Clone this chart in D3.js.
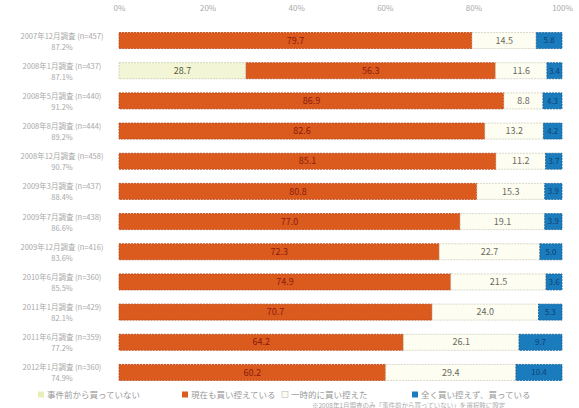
<!DOCTYPE html>
<html><head><meta charset="utf-8">
<script src="https://cdn.jsdelivr.net/npm/d3@7"></script>
<style>body{margin:0;background:#fff}svg{display:block}text{font-family:"Noto Sans CJK JP","Noto Sans",sans-serif}</style>
</head><body><svg id="c" width="579" height="408"></svg>
<script>
const surveys = ["2007年12月調査","2008年1月調査","2008年5月調査","2008年8月調査","2008年12月調査","2009年3月調査","2009年7月調査","2009年12月調査","2010年6月調査","2011年1月調査","2011年6月調査","2012年1月調査"];
const sampleSizes = ["(n=457)","(n=437)","(n=440)","(n=444)","(n=458)","(n=437)","(n=438)","(n=416)","(n=360)","(n=429)","(n=359)","(n=360)"];
const shares = ["87.2%","87.1%","91.2%","89.2%","90.7%","88.4%","86.6%","83.6%","85.5%","82.1%","77.2%","74.9%"];
const seriesNames = ["事件前から買っていない","現在も買い控えている","一時的に買い控えた","全く買い控えず、買っている"];
const notBuying = [0,28.7,0,0,0,0,0,0,0,0,0,0];
const stillAvoiding = [79.7,56.3,86.9,82.6,85.1,80.8,77.0,72.3,74.9,70.7,64.2,60.2];
const temporarilyAvoided = [14.5,11.6,8.8,13.2,11.2,15.3,19.1,22.7,21.5,24.0,26.1,29.4];
const neverAvoided = [5.8,3.4,4.3,4.2,3.7,3.9,3.9,5.0,3.6,5.3,9.7,10.4];
const tickLabels = ["0%","20%","40%","60%","80%","100%"];
const tickValues = [0,20,40,60,80,100];

const colors = ["#f3f6d6","#db5a1d","#fdfdf2","#1b7cbd"];
const labelColors = ["#5a5a3a","#8a1c10","#6b6b5a","#0e3f73"];
const strokeColors = ["#c9c9a8","#b4461a","#cfcfbf","#165f92"];

const svg = d3.select("#c");
const x = d3.scaleLinear().domain([0,100]).range([119,562]);
const y = d3.scaleBand().domain(surveys).range([25,388]).paddingInner(0.47).paddingOuter(0.25);

const rows = surveys.map((s,i)=>({s,vals:[notBuying[i],stillAvoiding[i],temporarilyAvoided[i],neverAvoided[i]]}));
const stacked = d3.stack().keys([0,1,2,3]).value((d,k)=>d.vals[k])(rows);

// axis
const ax = svg.append("g").attr("transform","translate(0,12)")
  .call(d3.axisTop(x).tickValues(tickValues).tickFormat((d,i)=>tickLabels[i]).tickSize(0));
ax.select(".domain").remove();
ax.selectAll("text").attr("fill","#aaa").attr("font-size",8).attr("dy","0.3em");

stacked.forEach((layer,k)=>{
  const g = svg.append("g");
  layer.forEach((d,i)=>{
    const v = d[1]-d[0];
    if (v<=0) return;
    g.append("rect").attr("x",x(d[0])).attr("y",y(surveys[i])).attr("width",x(d[1])-x(d[0])).attr("height",y.bandwidth())
      .attr("fill",colors[k]).attr("stroke",strokeColors[k]).attr("stroke-width",0.8).attr("stroke-dasharray","2,1");
    g.append("text").attr("x",(x(d[0])+x(d[1]))/2).attr("y",y(surveys[i])+y.bandwidth()/2).attr("dy","0.35em")
      .attr("text-anchor","middle").attr("font-size",k===3?8:9).attr("fill",labelColors[k]).text(v.toFixed(1));
  });
});

// row labels
surveys.forEach((s,i)=>{
  const cy = y(s)+y.bandwidth()/2;
  svg.append("text").attr("x",62).attr("y",cy-2).attr("text-anchor","middle").attr("font-size",7.5).attr("fill","#a8a8a8")
    .text(s+" "+sampleSizes[i]);
  svg.append("text").attr("x",62).attr("y",cy+9).attr("text-anchor","middle").attr("font-size",7.5).attr("fill","#a8a8a8")
    .text(shares[i]);
});

// legend
const legX = [38,182,282,412];
const lg = svg.append("g");
seriesNames.forEach((n,k)=>{
  lg.append("rect").attr("x",legX[k]).attr("y",391.5).attr("width",6).attr("height",6).attr("fill",k===0?"#e9efb4":colors[k])
    .attr("stroke",k===2?"#bbb":"none").attr("stroke-width",0.6);
  lg.append("text").attr("x",legX[k]+9).attr("y",398).attr("font-size",8.5).attr("fill","#999").text(n);
});
svg.append("text").attr("x",312).attr("y",407.5).attr("font-size",6.5).attr("fill","#aaa")
  .text("※2008年1月調査のみ「事件前から買っていない」を選択肢に設定");
</script></body></html>
